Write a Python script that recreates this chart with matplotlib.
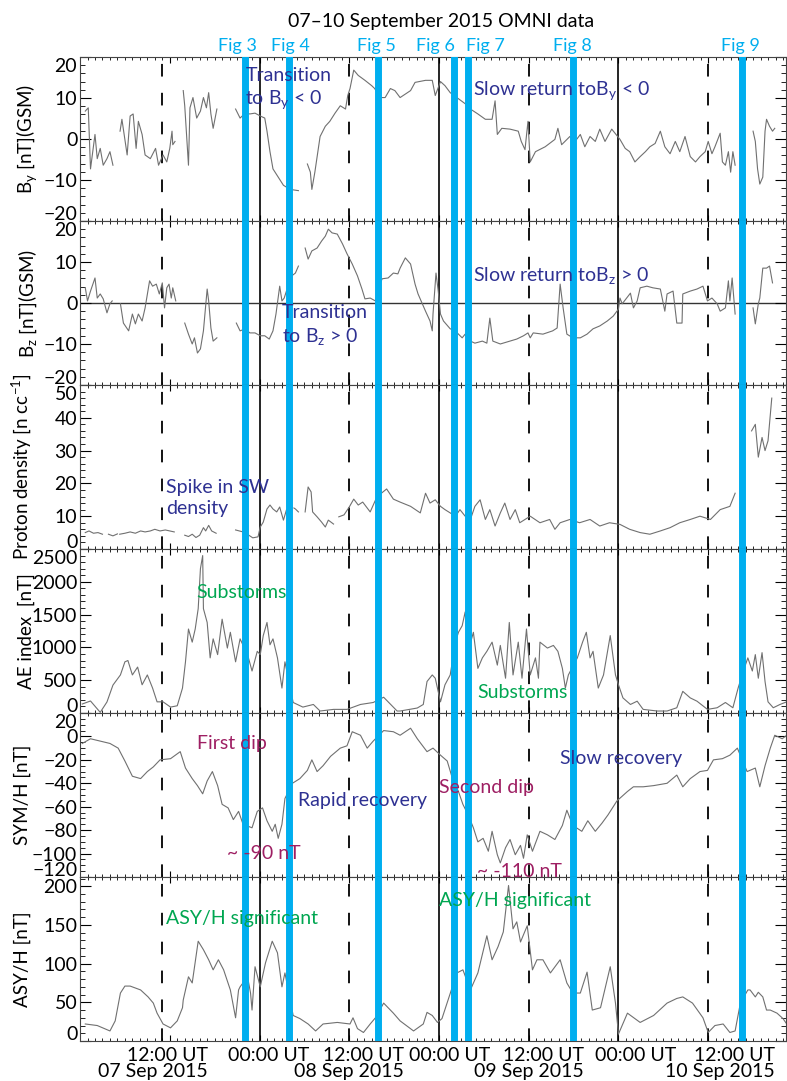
import numpy as np
import matplotlib.pyplot as plt
from matplotlib.ticker import MultipleLocator, FixedLocator
from matplotlib.transforms import blended_transform_factory, ScaledTranslation

plt.rcParams['font.family'] = ['Lato', 'DejaVu Sans']
plt.rcParams['mathtext.fontset'] = 'custom'
plt.rcParams['mathtext.rm'] = 'Lato'

nan = np.nan
GAP = (nan, nan)

# time in hours since 07 Sep 2015 00:00 UT
by_data = [(0.7, 6.8), (1.1, 7.6), (1.4, -7.3), (2.0, 1.1), (2.3, -4.8), (2.7, -2.3), (3.1, -6.4),
           (3.6, -4.8), (4.0, -3.1), (4.4, -6.4), GAP,
           (5.35, 1.9), (5.6, 4.8), (6.3, -3.9), (6.7, 5.6), (7.1, 6.1), (7.5, -2.3), (7.8, 4.3),
           (8.3, 1.1), (8.7, -3.9), (9.4, -4.8), (10.1, -2.3), (10.5, -6.4), (11.1, -3.9),
           (11.6, -5.6), (12.0, -2.3), (12.3, 1.9), (12.4, -1.4), (12.7, -0.6), GAP,
           (13.8, 11.8), (14.0, 8.1), (14.5, -6.4), (14.7, 7.6), (15.1, 10.1), (15.6, 5.1),
           (16.1, 6.8), (16.5, 10.1), (16.9, 7.6), (17.2, 11.3), (17.5, 6.1), (17.8, 2.6), (18.3, 7.3), GAP,
           (20.8, 7.3), (21.4, 5.1), (22.1, 6.3), (22.7, 6.1), (23.4, 6.3), (24.1, 5.6), (24.7, 5.1),
           (25.0, 1.9), (25.4, -3.1), (25.8, -7.3), (26.5, -9.3), (27.2, -11.3), (28.1, -12.3),
           (29.2, -12.6), GAP,
           (30.4, -6.1), (30.8, -8.1), (31.0, -12.3), (31.4, -8.1), (31.8, -3.1), (32.1, 0.6),
           (32.8, 3.1), (33.4, 4.3), (34.1, 6.3), (34.8, 8.1), (35.5, 7.3), (35.8, 10.6), (36.1, 12.3),
           (36.6, 16.8), (37.2, 15.5), (38.1, 14.3), (39.0, 13.0), (39.4, 12.3), (40.1, 10.1),
           (40.8, 10.1), (41.5, 12.3), (42.1, 11.8), (42.8, 10.1), (44.2, 11.8), (44.8, 13.8),
           (46.2, 14.3), (47.1, 14.3), (47.5, 10.6), (48.2, 14.0), (48.8, 13.0), (49.5, 11.3),
           (50.4, 10.1), (51.5, 8.6), (52.2, 7.3), (53.2, 6.1), (54.2, 4.8), (55.1, 4.8), (55.5, 9.3),
           (55.8, 1.1), (56.4, 2.6), (57.5, 2.4), (58.6, 1.9), (59.0, -0.6), (59.5, -2.6), (59.9, 4.3),
           (60.2, -5.6), (60.9, -3.1), (62.2, -1.9), (63.5, -0.1), (63.9, 2.6), (64.4, -1.4),
           (65.5, 0.6), (66.2, -0.6), (66.9, 1.1), (67.5, -1.9), (68.2, 0.6), (68.9, -0.6), (69.5, 2.4),
           (70.2, -0.6), (71.1, 2.4), (72.2, -0.1), (72.9, -2.3), (73.5, -3.1), (74.2, -5.6),
           (74.9, -4.3), (75.6, -3.1), (76.2, -1.9), (76.9, -1.1), (77.6, 1.9), (78.2, -1.9),
           (78.9, -3.6), (79.6, -0.6), (80.2, -3.1), (80.9, 0.6), (81.6, -4.3), (82.3, -5.6),
           (82.9, -4.3), (83.6, -3.1), (84.0, -0.6), (84.5, -3.6), (84.9, -1.9), (85.6, 1.4),
           (85.9, -5.6), (86.3, -6.4), (86.7, -3.1), (87.0, -8.1), (87.3, -3.1), (87.6, -6.4), GAP,
           (90.0, 1.9), (90.3, -0.6), (90.6, -7.3), (90.9, -11.0), (91.3, -9.3), (91.6, 1.9),
           (91.8, 4.8), (92.2, 3.1), (92.6, 1.9), (92.9, 2.6)]

bz_data = [(0.7, 3.7), (1.0, 0.5), (1.4, 2.9), (2.0, 6.1), (2.3, 1.2), (2.7, 2.2), (3.1, 1.0),
           (3.6, -2.4), (4.0, -0.2), (4.3, 0.5), GAP,
           (5.4, -0.2), (5.8, -4.9), (6.5, -6.8), (7.0, -2.7), (7.4, -5.1), (7.8, -2.7), (8.3, -4.4),
           (8.7, -1.2), (9.3, 5.4), (9.7, 4.1), (10.2, 4.6), (10.6, 2.2), (11.0, 4.9), (11.3, -1.2),
           (11.6, 3.7), (11.9, 4.6), (12.2, 1.2), (12.4, 3.7), (12.8, 0.5), GAP,
           (14.0, -4.9), (14.5, -7.6), (15.0, -10.0), (15.3, -8.5), (15.7, -12.2), (16.1, -11.2),
           (16.5, -6.8), (17.0, 3.4), (17.2, 0.5), (17.5, -6.1), (17.8, -9.3), (18.3, -8.5), GAP,
           (20.9, -4.9), (21.4, -6.8), (22.1, -6.3), (22.7, -7.3), (23.4, -7.3), (24.1, -8.0),
           (24.7, -8.0), (25.3, -8.8), (25.8, -6.8), (26.2, -2.7), (26.7, 4.1), (27.0, 0.5),
           (27.3, 1.2), (27.6, 2.9), GAP,
           (28.3, 6.6), (28.8, 7.3), (29.2, 9.0), GAP,
           (30.1, 13.4), (30.5, 10.7), (31.0, 12.7), (31.7, 13.4), (32.3, 15.1), (32.8, 16.3),
           (33.2, 18.0), (33.7, 17.1), (34.4, 16.8), (35.1, 14.4), (35.7, 12.0), (36.4, 9.5),
           (37.1, 6.6), (37.7, 3.4), (38.1, 1.0), (38.8, 1.2), (39.5, 0.5), (39.9, 3.7), (40.4, 5.9),
           (41.2, 6.1), (41.9, 7.3), (42.5, 7.1), (42.8, 8.5), (43.5, 11.0), (44.2, 9.5), (44.8, 4.6),
           (45.2, 2.2), (46.2, -2.0), (46.8, -4.4), (47.1, -6.8), (47.2, -2.7), (47.6, 7.3),
           (47.9, 2.9), (48.2, -2.7), (48.6, -4.4), (49.5, -6.3), (50.2, -6.8), (50.6, -7.6),
           (51.1, -8.5), (51.5, -7.6), (52.2, -9.3), (52.8, -9.8), (53.8, -9.3), (54.4, -9.8),
           (54.8, -3.7), (55.2, -9.3), (56.2, -10.0), (57.5, -9.3), (58.4, -8.8), (59.3, -8.0),
           (59.9, -7.3), (60.2, -8.5), (60.6, -7.3), (61.9, -7.6), (63.2, -6.8), (63.8, -6.1),
           (64.2, 4.6), (64.6, -1.2), (65.1, -7.6), (65.9, -8.5), (66.9, -8.5), (67.8, -7.6),
           (68.6, -6.3), (69.5, -5.6), (70.5, -4.4), (71.3, -3.2), (72.0, -1.5), (72.2, 1.2),
           (72.5, -0.2), (73.1, 1.2), (73.6, 2.4), (74.0, -1.2), (74.5, 0.5), (74.9, 3.7), (75.8, 4.1),
           (76.6, 3.7), (77.6, 3.4), (78.2, -2.0), (78.5, 2.2), (79.3, 2.9), (79.8, -4.9), (80.5, -4.9),
           (80.6, 2.2), (81.6, 2.9), (82.5, 3.4), (83.3, 4.1), (83.9, 0.5), (84.5, 1.2), (85.2, -0.2),
           (85.6, -2.0), (86.3, -1.2), (86.7, 5.4), (86.9, 0.5), (87.2, 6.1), (87.6, -2.7), GAP,
           (90.0, -1.2), (90.3, -5.1), (90.7, -0.2), (90.9, 1.2), (91.3, 8.5), (91.8, 8.5),
           (92.2, 9.0), (92.6, 4.9)]

dens_data = [(0.7, 5.0), (1.2, 5.5), (1.8, 4.8), (2.4, 5.0), (3.0, 4.5), GAP,
             (3.8, 4.5), (4.4, 4.0), (5.0, 4.6), GAP,
             (5.3, 4.5), (6.0, 4.8), (6.7, 5.2), (7.4, 4.8), (8.1, 5.5), (8.7, 5.2), (9.4, 5.5),
             (10.0, 6.0), (10.7, 5.5), (11.4, 5.8), (12.0, 5.5), (12.6, 5.2), GAP,
             (14.0, 4.2), (14.5, 3.8), (15.0, 4.5), (15.5, 3.5), (16.0, 4.2), (16.5, 6.5), (16.8, 5.5),
             (17.2, 7.2), (17.6, 5.5), (18.2, 4.8), GAP,
             (20.8, 5.8), (21.8, 5.2), (22.5, 4.3), (23.1, 3.4), (23.8, 3.7), (24.1, 6.7), (24.5, 8.2),
             (25.0, 12.2), (25.4, 13.4), (25.8, 12.2), (26.3, 11.3), (26.7, 12.8), (27.2, 8.8),
             (27.6, 11.9), (28.1, 12.8), GAP,
             (28.6, 12.5), (28.8, 12.2), (29.2, 11.3), GAP,
             (30.1, 11.3), (30.5, 18.9), (30.9, 17.4), (31.1, 11.3), (31.7, 9.8), (32.3, 8.2),
             (32.8, 6.7), (33.2, 8.8), (33.9, 7.6), GAP,
             (34.6, 9.8), (35.3, 10.4), (36.0, 12.8), (36.6, 15.2), (37.2, 13.4), (37.8, 14.3),
             (38.3, 12.8), (38.8, 11.3), (39.7, 15.9), (41.0, 18.3), (41.9, 15.2), (42.8, 14.3),
             (44.2, 13.0), (45.5, 11.0), (46.2, 17.0), (46.8, 14.0), (47.5, 15.0), (48.2, 13.0),
             (48.8, 12.0), (49.5, 11.0), (50.2, 10.0), (50.8, 12.0), (51.5, 10.0), (52.2, 9.0),
             (52.8, 13.0), (53.5, 15.0), (54.2, 9.0), (54.8, 12.0), (55.5, 7.0), (56.2, 11.0),
             (56.8, 14.0), (57.5, 9.0), (58.2, 12.0), (58.8, 8.0), (59.5, 9.0), (60.2, 10.0),
             (61.5, 8.0), (62.8, 9.0), (63.5, 6.0), (64.2, 8.0), (65.5, 9.0), (66.8, 8.0), (68.2, 9.0),
             (69.5, 7.0), (70.8, 8.0), (72.2, 7.5), (73.5, 6.0), (74.9, 5.0), (76.2, 4.5), (77.6, 5.5),
             (78.9, 6.5), (80.2, 8.0), (81.6, 9.0), (82.9, 10.0), (84.3, 9.0), (85.6, 12.0),
             (86.9, 13.0), (87.6, 17.0), GAP,
             (89.8, 36.0), (90.3, 38.0), (90.7, 28.0), (91.2, 34.0), (91.6, 30.0), (92.0, 33.0),
             (92.5, 46.0)]

ae_data = [(0.3, 137), (1.4, 183), (2.7, 10), (3.6, 168), (4.4, 425), (5.4, 580), (6.0, 780),
           (6.4, 800), (7.0, 580), (7.7, 700), (8.3, 430), (9.0, 580), (9.7, 380), (10.3, 170),
           (11.1, 170), (12.1, 90), (13.0, 110), (13.7, 380), (14.1, 780), (14.5, 1280), (15.0, 1080),
           (15.4, 1280), (15.8, 1590), (16.1, 2200), (16.4, 2400), (16.5, 1590), (17.0, 1380),
           (17.4, 840), (17.8, 1130), (18.4, 890), (19.0, 1430), (19.7, 990), (20.1, 1230),
           (20.8, 780), (21.4, 1130), (22.4, 890), (23.0, 640), (23.7, 940), (24.1, 890),
           (24.5, 1180), (25.0, 1380), (25.4, 1040), (25.8, 1130), (26.4, 840), (27.0, 380),
           (27.4, 780), (28.5, 160), (29.8, 90), (31.2, 130), (32.1, 30), (33.9, 55), (35.7, 55),
           (37.5, 130), (39.2, 160), (40.6, 240), (42.4, 30),
           (42.8, 30), (45.1, 76), (45.9, 130), (46.4, 480), (47.1, 580), (47.5, 530), (48.2, 170),
           (48.8, 430), (49.5, 580), (50.2, 1080), (50.6, 1230), (51.1, 1330), (51.5, 1540),
           (51.9, 940), (52.6, 1230), (53.2, 680), (53.8, 840), (54.4, 940), (55.1, 1080),
           (55.8, 730), (56.2, 1030), (56.9, 530), (57.4, 1380), (57.9, 580), (58.6, 1080),
           (59.1, 530), (59.7, 1280), (60.2, 580), (60.9, 840), (61.3, 530), (61.5, 1080),
           (62.5, 990), (63.3, 1030), (63.9, 940), (64.5, 680), (64.9, 380), (65.3, 580),
           (66.5, 840), (67.2, 1080), (67.7, 1230), (68.2, 840), (68.6, 940), (69.3, 380),
           (70.0, 580), (70.9, 1180), (71.6, 580), (72.0, 430), (72.6, 230), (73.6, 130),
           (74.5, 180), (75.3, 55), (77.2, 30), (78.5, 30), (79.8, 80), (80.6, 330), (81.6, 230),
           (82.5, 180), (83.9, 55), (85.2, 80), (86.3, 160), (87.3, 80), (88.0, 380), (88.7, 640),
           (89.3, 840), (89.9, 640), (90.3, 890), (90.7, 530), (91.2, 920), (91.6, 480),
           (92.0, 170), (92.7, 80), (93.6, 130), (94.5, 170)]

sym_data = [(0.3, -6), (1.4, -2), (2.7, -4), (4.0, -6), (5.1, -10), (6.0, -21), (7.0, -34),
            (8.1, -36), (9.0, -30), (9.8, -26), (10.7, -20), (12.1, -19), (13.4, -13), (14.1, -27),
            (15.0, -36), (15.7, -42), (16.4, -49), (17.0, -38), (17.7, -30), (18.4, -42), (19.0, -58),
            (19.8, -61), (20.5, -71), (21.2, -64), (21.8, -75), (23.0, -78), (23.7, -64), (24.4, -61),
            (25.0, -72), (25.7, -81), (26.1, -75), (26.5, -87), (27.0, -75), (27.4, -53), (28.4, -40),
            (29.4, -36), (30.4, -29), (31.0, -20), (31.7, -30), (32.5, -25), (33.5, -17), (34.8, -10),
            (35.7, -8), (36.4, 4), (37.5, 1), (38.4, -10), (39.2, -4), (40.6, 5), (41.9, 4),
            (42.8, 1), (44.2, 7), (45.1, -2), (46.4, -13), (47.2, -10), (48.2, -16), (49.1, -21),
            (49.8, -36), (50.6, -47), (51.2, -58), (51.9, -67), (52.6, -78), (53.2, -90), (53.9, -87),
            (54.6, -98), (55.1, -81), (55.8, -101), (56.2, -108), (56.9, -95), (57.5, -88),
            (58.2, -101), (58.9, -93), (59.3, -104), (59.8, -84), (60.5, -98), (61.5, -81),
            (62.5, -84), (63.5, -88), (64.5, -76), (65.1, -63), (65.9, -76), (67.1, -81), (67.9, -72),
            (68.9, -81), (69.8, -74), (70.6, -67), (71.8, -55), (73.2, -47), (74.0, -43), (75.3, -43),
            (76.7, -42), (78.5, -40), (79.8, -33), (80.6, -43), (81.6, -36), (82.9, -30), (83.9, -29),
            (84.7, -20), (85.9, -19), (86.9, -16), (87.9, -10), (89.2, -30), (90.3, -27), (90.9, -43),
            (91.6, -25), (92.3, -10), (92.9, 1), (93.9, -2), (94.5, 1)]

asy_data = [(0.7, 22), (2.3, 20), (4.0, 13), (4.7, 26), (5.4, 62), (6.0, 71), (6.7, 71), (8.1, 66),
            (9.1, 57), (9.8, 49), (10.3, 36), (11.1, 22), (12.1, 17), (13.0, 26), (13.7, 43),
            (13.8, 53), (14.5, 83), (15.0, 75), (15.8, 129), (16.5, 118), (17.2, 105), (17.8, 92),
            (18.5, 105), (19.2, 92), (20.1, 66), (20.8, 30), (21.2, 66), (21.4, 70), (22.4, 83),
            (22.8, 62), (23.0, 40), (23.4, 96), (24.1, 70), (24.8, 101), (25.7, 129), (26.4, 114),
            (27.0, 70), (27.4, 88), (28.5, 33), (29.4, 29), (30.5, 22), (31.5, 13), (32.5, 22),
            (34.4, 24), (36.1, 22), (36.5, 30), (37.1, 16), (37.9, 11), (38.8, 22), (39.5, 30),
            (40.6, 49), (41.9, 36), (42.8, 26), (44.6, 13), (45.9, 22), (46.4, 37), (47.1, 33),
            (47.8, 24), (48.4, 29), (50.4, 88), (51.2, 92), (52.2, 66), (53.2, 88), (54.4, 136),
            (55.1, 105), (55.9, 122), (56.6, 141), (57.3, 201), (57.9, 145), (58.4, 154), (58.9, 128),
            (59.8, 149), (60.5, 92), (61.1, 105), (61.9, 105), (62.9, 88), (64.2, 105), (65.1, 75),
            (65.9, 62), (66.9, 62), (67.8, 89), (68.5, 40), (69.6, 43), (70.9, 96), (71.6, 49),
            (72.0, 9), (73.2, 36), (74.9, 24), (76.7, 33), (78.5, 49), (79.8, 55), (80.6, 57),
            (81.9, 49), (83.3, 30), (84.0, 11), (84.9, 20), (86.0, 22), (86.9, 11), (87.6, 13),
            (88.3, 49), (89.3, 66), (89.6, 66), (90.3, 57), (90.7, 63), (91.3, 57), (91.8, 40),
            (92.3, 40), (93.2, 36), (94.0, 29), (94.5, 22)]

# event markers (hours)
dashed_hours = [11.0, 36.0, 60.0, 84.0]
solid_hours = [24.0, 48.0, 72.0]
fig_hours = [22.0, 28.0, 39.9, 50.0, 51.9, 65.9, 88.5]
fig_names = ['Fig 3', 'Fig 4', 'Fig 5', 'Fig 6', 'Fig 7', 'Fig 8', 'Fig 9']
fig_label_hours = [21.1, 28.1, 39.7, 47.5, 54.2, 65.8, 88.3]

tick_hours = [12, 24, 36, 48, 60, 72, 84]
tick_labels = ['12:00 UT\n07 Sep 2015', '00:00 UT', '12:00 UT\n08 Sep 2015', '00:00 UT',
               '12:00 UT\n09 Sep 2015', '00:00 UT', '12:00 UT\n10 Sep 2015']
tick_label_shift_px = [-17, 9, 0, 11, 0, 17, 12]

ylabels = [r'B$\mathregular{_y}$ [nT](GSM)', r'B$\mathregular{_z}$ [nT](GSM)',
           r'Proton density [n cc$\mathregular{^{-1}}$]', 'AE index  [nT]', 'SYM/H [nT]', 'ASY/H [nT]']
ylims = [(-20, 20), (-20, 20), (0, 50), (0, 2500), (-120, 20), (0, 212)]
ymajor = [10, 10, 10, 500, 20, 50]
yminor = [2, 2, 2, 100, 5, 10]
ylabel_x = [-0.058, -0.058, -0.066, -0.064, -0.070, -0.070]

CYAN = '#00aeef'
DBLUE = '#2e3192'
GREEN = '#00a651'
MAGENTA = '#9e1f63'
GRAY = '#707070'
FS = 14

fig, axes = plt.subplots(6, 1, figsize=(7.87, 10.81), dpi=100, sharex=True)
fig.subplots_adjust(left=0.1017, right=0.9987, top=0.9473, bottom=0.037, hspace=0)

datasets = [by_data, bz_data, dens_data, ae_data, sym_data, asy_data]
for i, ax in enumerate(axes):
    arr = np.array(datasets[i], dtype=float)
    ax.plot(arr[:, 0], arr[:, 1], color=GRAY, lw=0.8, zorder=2)
    for h in dashed_hours:
        ax.axvline(h, color='black', lw=1.3, dashes=(7, 9), zorder=1)
    for h in solid_hours:
        ax.axvline(h, color='black', lw=1.2, zorder=1)
    for h in fig_hours:
        ax.axvline(h, color=CYAN, lw=5, zorder=3)
    ax.set_ylim(*ylims[i])
    ax.yaxis.set_major_locator(MultipleLocator(ymajor[i]))
    ax.yaxis.set_minor_locator(MultipleLocator(yminor[i]))
    ax.tick_params(axis='y', which='major', direction='in', length=8, width=0.8,
                   left=True, right=True, labelsize=FS, pad=2)
    ax.tick_params(axis='y', which='minor', direction='in', length=3.5, width=0.6,
                   left=True, right=True)
    ax.xaxis.set_minor_locator(MultipleLocator(1))
    ax.tick_params(axis='x', which='minor', direction='in', length=2.5, width=0.6,
                   top=True, bottom=True)
    ax.tick_params(axis='x', which='major', direction='in', length=4, width=0.8,
                   top=True, bottom=True, labelsize=FS, pad=4)
    for s in ax.spines.values():
        s.set_linewidth(0.8)
        s.set_color('#444444')
    ax.set_ylabel(ylabels[i], fontsize=13.5)
    ax.yaxis.set_label_coords(ylabel_x[i], 0.5)

axes[1].axhline(0, color='#333333', lw=1.0, zorder=1)

ax = axes[-1]
ax.set_xlim(0, 94.4)
ax.xaxis.set_major_locator(FixedLocator(tick_hours))
ax.set_xticklabels(tick_labels)
for lab, dx in zip(ax.get_xticklabels(), tick_label_shift_px):
    lab.set_multialignment('right')
    lab.set_linespacing(0.95)
    lab.set_transform(lab.get_transform() + ScaledTranslation(dx / 100, 0, fig.dpi_scale_trans))

# Fig labels above the first panel
trans = blended_transform_factory(axes[0].transData, axes[0].transAxes)
for name, h in zip(fig_names, fig_label_hours):
    axes[0].text(h, 1.065, name, transform=trans, ha='center', va='center',
                 color=CYAN, fontsize=13, clip_on=False)

fig.text(441 / 787, 1 - 21 / 1081, '07\u201310 September 2015 OMNI data',
         ha='center', va='center', fontsize=14)

kw = dict(fontsize=FS, ha='left', va='center', zorder=5, linespacing=1.3, clip_on=False)
axes[0].text(22.1, 12.2, 'Transition\nto B$\\mathregular{_y}$ < 0', color=DBLUE, **kw)
axes[0].text(52.6, 11.8, 'Slow return toB$\\mathregular{_y}$ < 0', color=DBLUE, **kw)
axes[1].text(52.6, 6.8, 'Slow return toB$\\mathregular{_z}$ > 0', color=DBLUE, **kw)
axes[1].text(27.0, -5.5, 'Transition\nto B$\\mathregular{_z}$ > 0', color=DBLUE, **kw)
axes[2].text(11.5, 15.5, 'Spike in SW\ndensity', color=DBLUE, **kw)
axes[3].text(15.5, 1830, 'Substorms', color=GREEN, **kw)
axes[3].text(53.1, 305, 'Substorms', color=GREEN, **kw)
axes[4].text(15.6, -6, 'First dip', color=MAGENTA, **kw)
axes[4].text(19.7, -99.6, '~ -90 nT', color=MAGENTA, **kw)
axes[4].text(29.2, -54.5, 'Rapid recovery', color=DBLUE, **kw)
axes[4].text(48.0, -44, 'Second dip', color=MAGENTA, **kw)
axes[4].text(64.2, -18.7, 'Slow recovery', color=DBLUE, **kw)
axes[4].text(53.1, -115, '~ -110 nT', color=MAGENTA, **kw)
axes[5].text(11.5, 158, 'ASY/H significant', color=GREEN, **kw)
axes[5].text(48.0, 181.6, 'ASY/H significant', color=GREEN, **kw)

# nudge the end labels of each y axis inward, as in the original layout
fig.canvas.draw()
for ax in axes:
    lo, hi = ax.get_ylim()
    for tick in ax.yaxis.get_major_ticks():
        loc = tick.get_loc()
        if np.isclose(loc, lo):
            dy = 8
        elif np.isclose(loc, hi):
            dy = -8
        else:
            continue
        tick.label1.set_transform(tick.label1.get_transform() +
                                  ScaledTranslation(0, dy / 100, fig.dpi_scale_trans))

fig.savefig('out.png', dpi=100)
